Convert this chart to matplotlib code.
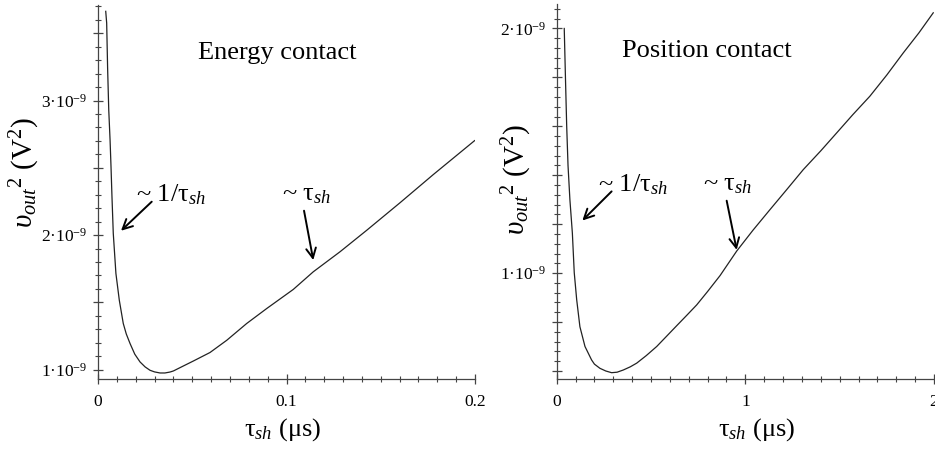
import matplotlib
matplotlib.use("Agg")
import matplotlib.pyplot as plt
from matplotlib.ticker import FixedLocator, MultipleLocator, FixedFormatter

plt.rcParams['font.family'] = ['Liberation Serif', 'DejaVu Serif']
plt.rcParams['mathtext.fontset'] = 'custom'
plt.rcParams['mathtext.rm'] = 'Liberation Serif'
plt.rcParams['mathtext.it'] = 'Liberation Serif:italic'
plt.rcParams['mathtext.bf'] = 'Liberation Serif:bold'

# ---- data (tau in microseconds, noise in V^2) ----
energy_tau = [0.0041, 0.0046, 0.0051, 0.0057, 0.0064, 0.0069, 0.0074, 0.0081,
              0.0095, 0.0113, 0.0134, 0.0150, 0.0170, 0.0195, 0.0223, 0.0250,
              0.0276, 0.0300, 0.0329, 0.0355, 0.0382, 0.0400, 0.0450, 0.0506,
              0.0594, 0.0683, 0.0789, 0.0895, 0.1036, 0.1142, 0.1284, 0.1425,
              0.1602, 0.1779, 0.1998]
energy_v2 = [3.663e-9, 3.576e-9, 3.241e-9, 2.931e-9, 2.707e-9, 2.509e-9, 2.290e-9,
             2.013e-9, 1.715e-9, 1.516e-9, 1.343e-9, 1.265e-9, 1.194e-9, 1.115e-9,
             1.057e-9, 1.020e-9, 0.995e-9, 0.983e-9, 0.975e-9, 0.975e-9, 0.982e-9,
             0.990e-9, 1.025e-9, 1.064e-9, 1.127e-9, 1.218e-9, 1.343e-9, 1.454e-9,
             1.596e-9, 1.727e-9, 1.876e-9, 2.035e-9, 2.240e-9, 2.450e-9, 2.702e-9]

position_tau = [0.040, 0.047, 0.053, 0.060, 0.070, 0.083, 0.093, 0.106, 0.123,
                0.150, 0.185, 0.200, 0.229, 0.260, 0.291, 0.320, 0.353, 0.390,
                0.424, 0.475, 0.530, 0.580, 0.636, 0.690, 0.742, 0.800, 0.866,
                0.954, 1.040, 1.130, 1.220, 1.307, 1.400, 1.484, 1.570, 1.660,
                1.750, 1.837, 1.920, 1.996]
position_v2 = [2.000e-9, 1.780e-9, 1.600e-9, 1.440e-9, 1.300e-9, 1.164e-9, 1.002e-9,
               0.891e-9, 0.781e-9, 0.700e-9, 0.645e-9, 0.628e-9, 0.611e-9, 0.600e-9,
               0.593e-9, 0.595e-9, 0.604e-9, 0.617e-9, 0.632e-9, 0.663e-9, 0.700e-9,
               0.740e-9, 0.785e-9, 0.828e-9, 0.870e-9, 0.925e-9, 0.990e-9, 1.090e-9,
               1.175e-9, 1.259e-9, 1.342e-9, 1.423e-9, 1.500e-9, 1.573e-9, 1.648e-9,
               1.723e-9, 1.810e-9, 1.900e-9, 1.982e-9, 2.064e-9]

energy_yticks = [1e-9, 2e-9, 3e-9]
energy_ylabels = ['1·10$^{-9}$', '2·10$^{-9}$', '3·10$^{-9}$']
energy_xticks = [0, 0.1, 0.2]
energy_xlabels = ['0', '0.1', '0.2']
position_yticks = [1e-9, 2e-9]
position_ylabels = ['1·10$^{-9}$', '2·10$^{-9}$']
position_xticks = [0, 1, 2]
position_xlabels = ['0', '1', '2']

W, H = 935, 451
fig = plt.figure(figsize=(W / 100, H / 100), dpi=100)

axis_col = '#444444'
line_col = '#222222'


def px_axes(x0, x1, ytop, ybot):
    return fig.add_axes([x0 / W, 1 - ybot / H, (x1 - x0) / W, (ybot - ytop) / H])


def style(ax, xmaj, xlab, xminor, ymaj, ylab, ymed, yminor):
    for s in ['top', 'right']:
        ax.spines[s].set_visible(False)
    for s in ['left', 'bottom']:
        ax.spines[s].set_color(axis_col)
        ax.spines[s].set_linewidth(0.9)
    ax.xaxis.set_major_locator(FixedLocator(xmaj))
    ax.xaxis.set_major_formatter(FixedFormatter(xlab))
    ax.xaxis.set_minor_locator(MultipleLocator(xminor))
    lo, hi = ax.get_ylim()
    meds = []
    v = ymed
    while v < hi:
        if v >= lo:
            meds.append(v)
        v += ymed
    allmaj = sorted(set([round(m, 14) for m in meds] + [round(m, 14) for m in ymaj]))
    labs = []
    for m in allmaj:
        lab = ''
        for t, l in zip(ymaj, ylab):
            if abs(t - m) < 1e-13:
                lab = l
        labs.append(lab)
    ax.yaxis.set_major_locator(FixedLocator(allmaj))
    ax.yaxis.set_major_formatter(FixedFormatter(labs))
    ax.yaxis.set_minor_locator(MultipleLocator(yminor))
    ax.tick_params(which='major', direction='inout', length=7, width=0.9,
                   color=axis_col, labelsize=12.5, pad=4)
    ax.tick_params(which='minor', direction='inout', length=5, width=0.8,
                   color=axis_col)
    ax.tick_params(axis='x', which='major', pad=7)
    ax.patch.set_alpha(0)


# ---- left panel ----
ax1 = px_axes(98, 475, 5, 379.3)
ax1.plot(energy_tau, energy_v2, color=line_col, lw=0.9)
ax1.set_xlim(0, 0.2)
ax1.set_ylim(0.928e-9, 3.71e-9)
style(ax1, energy_xticks, energy_xlabels, 0.01, energy_yticks, energy_ylabels,
      0.5e-9, 0.1e-9)
ax1.text(0.475, 0.871, 'Energy contact', transform=ax1.transAxes, ha='center',
         va='center', fontsize=19)
ax1.text(0.0202, 2.30e-9, r'~ 1/$\mathrm{\tau}_{sh}$', ha='left', va='center', fontsize=19)
ax1.text(0.0976, 2.30e-9, r'~ $\mathrm{\tau}_{sh}$', ha='left', va='center', fontsize=19)
arrow = dict(arrowstyle='->,head_length=0.7,head_width=0.35', lw=1.4, color='black',
             shrinkA=0, shrinkB=0)
ax1.annotate('', xy=(0.0122, 2.032e-9), xytext=(0.0285, 2.248e-9), arrowprops=arrow)
ax1.annotate('', xy=(0.1142, 1.814e-9), xytext=(0.1093, 2.181e-9), arrowprops=arrow)

# ---- right panel ----
ax2 = px_axes(556.7, 934, 4, 379.3)
ax2.plot(position_tau, position_v2, color=line_col, lw=0.9)
ax2.set_xlim(0, 2)
ax2.set_ylim(0.566e-9, 2.10e-9)
style(ax2, position_xticks, position_xlabels, 0.1, position_yticks, position_ylabels,
      0.2e-9, 0.04e-9)
ax2.text(0.397, 0.875, 'Position contact', transform=ax2.transAxes, ha='center',
         va='center', fontsize=19)
ax2.text(0.219, 1.361e-9, r'~ 1/$\mathrm{\tau}_{sh}$', ha='left', va='center', fontsize=19)
ax2.text(0.775, 1.361e-9, r'~ $\mathrm{\tau}_{sh}$', ha='left', va='center', fontsize=19)
ax2.annotate('', xy=(0.136, 1.215e-9), xytext=(0.291, 1.334e-9), arrowprops=arrow)
ax2.annotate('', xy=(0.954, 1.095e-9), xytext=(0.901, 1.296e-9), arrowprops=arrow)

# ---- axis labels ----
ylab = r'$\upsilon_{out}{}^{2}$ (V$^2$)'
xlab = r'$\mathrm{\tau}_{sh}$ (μs)'
fig.text(25 / W, 1 - 173 / H, ylab, rotation=90, ha='center', va='center', fontsize=21)
fig.text(516.7 / W, 1 - 180 / H, ylab, rotation=90, ha='center', va='center', fontsize=21)
fig.text(283 / W, 1 - 430 / H, xlab, ha='center', va='center', fontsize=19)
fig.text(757 / W, 1 - 430 / H, xlab, ha='center', va='center', fontsize=19)

fig.savefig('out.png', dpi=100)
